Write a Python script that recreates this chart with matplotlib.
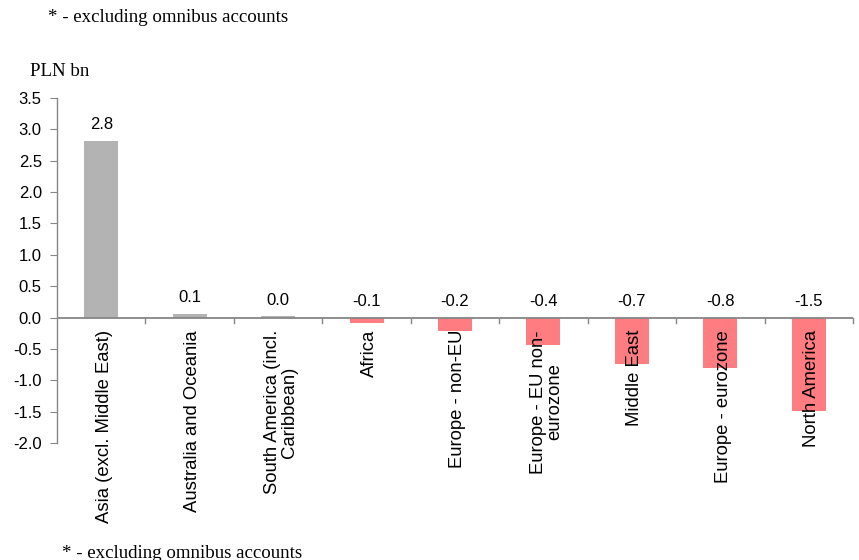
import matplotlib
matplotlib.use("Agg")
import matplotlib.pyplot as plt
import numpy as np

# net flows by region, PLN bn
regions = [
    "Asia (excl. Middle East)",
    "Australia and Oceania",
    "South America (incl.\nCaribbean)",
    "Africa",
    "Europe - non-EU",
    "Europe - EU non-\neurozone",
    "Middle East",
    "Europe - eurozone",
    "North America",
]
values = [2.82, 0.06, 0.02, -0.09, -0.22, -0.44, -0.74, -0.81, -1.49]

POS = "#b3b3b3"
NEG = "#ff7c80"
AXIS = "#868686"
SANS = ["Liberation Sans", "DejaVu Sans"]
SERIF = ["Liberation Serif", "DejaVu Serif"]

fig = plt.figure(figsize=(8.59, 5.60), dpi=100)
ax = fig.add_axes([0.0664, 0.209, 0.9266, 0.616])

x = np.arange(len(regions))
colors = [POS if v >= 0 else NEG for v in values]
ax.bar(x, values, width=0.385, color=colors, zorder=2)

ax.set_xlim(-0.5, len(regions) - 0.5)
ax.set_ylim(-2.0, 3.5)
yt = np.arange(-2.0, 3.51, 0.5)
ax.set_yticks(yt)
ax.set_yticklabels([f"{t:.1f}" for t in yt], family=SANS, fontsize=12)
ax.tick_params(axis="y", direction="out", length=5, color=AXIS, pad=6)

for s in ("top", "right", "bottom"):
    ax.spines[s].set_visible(False)
ax.spines["left"].set_color(AXIS)
ax.spines["left"].set_linewidth(1.0)
ax.set_xticks([])

# category axis sits on zero with ticks between categories
ax.axhline(0, color=AXIS, lw=1.3, zorder=3)
for b in np.arange(0.5, len(regions), 1.0):
    ax.plot([b, b], [0, -0.08], color=AXIS, lw=1.0, clip_on=False, zorder=3)

# value labels above the bar (or above the axis for negatives)
for xi, v in zip(x, values):
    ax.annotate(f"{v:.1f}", (xi, max(v, 0)), xytext=(0, 6),
                textcoords="offset points", ha="center", va="bottom",
                family=SANS, fontsize=12)

# category names hang down from the axis
for xi, name in zip(x, regions):
    ax.annotate(name, (xi, 0), xytext=(2, -9), textcoords="offset points",
                rotation=90, ha="center", va="top", multialignment="center",
                family=SANS, fontsize=13.3, linespacing=0.95)

fig.text(48 / 859, 1 - 17 / 560, "* - excluding omnibus accounts",
         family=SERIF, fontsize=13.6, va="center", ha="left")
fig.text(30 / 859, 1 - 72 / 560, "PLN bn",
         family=SERIF, fontsize=13.6, va="center", ha="left")
fig.text(62 / 859, 1 - 553 / 560, "* - excluding omnibus accounts",
         family=SERIF, fontsize=13.6, va="center", ha="left")

fig.savefig("out.png", dpi=100)
